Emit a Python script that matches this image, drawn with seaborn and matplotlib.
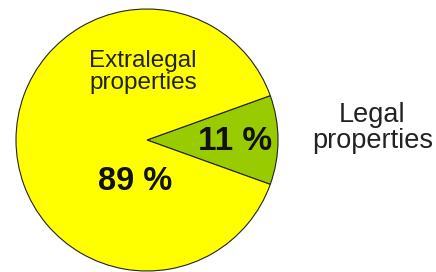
import matplotlib
matplotlib.use("Agg")
import matplotlib.pyplot as plt
import seaborn as sns

categories = ["Legal properties", "Extralegal properties"]
shares = [11, 89]
pct_labels = ["11 %", "89 %"]
colors = ["#99CC00", "#FFFF00"]

sns.set_theme(style="white")
plt.rcParams['font.family'] = ['Liberation Sans', 'DejaVu Sans']

fig = plt.figure(figsize=(4.36, 2.72), dpi=100)
W, H = 436, 272
cx, cy, r = 147, 140, 131
ax = fig.add_axes([(cx - r) / W, (H - cy - r) / H, 2 * r / W, 2 * r / H])
ax.pie(shares, colors=colors, startangle=-19.8, counterclock=True,
       wedgeprops=dict(edgecolor="#222222", linewidth=0.8))
ax.set_xlim(-1, 1)
ax.set_ylim(-1, 1)
ax.set_aspect("equal")
ax.axis("off")

ax.text(-0.03, 0.52, "Extralegal\nproperties", ha="center", va="center",
        fontsize=17.5, color="#222222", linespacing=1.0)
ax.text(1.72, 0.09, "Legal\nproperties", ha="center", va="center",
        fontsize=19.5, color="#222222", linespacing=1.02)
ax.text(0.67, -0.01, pct_labels[0], ha="center", va="center",
        fontsize=24, fontweight="bold", color="#111111")
ax.text(-0.09, -0.32, pct_labels[1], ha="center", va="center",
        fontsize=23.5, fontweight="bold", color="#111111")

fig.savefig("out.png", dpi=100)
